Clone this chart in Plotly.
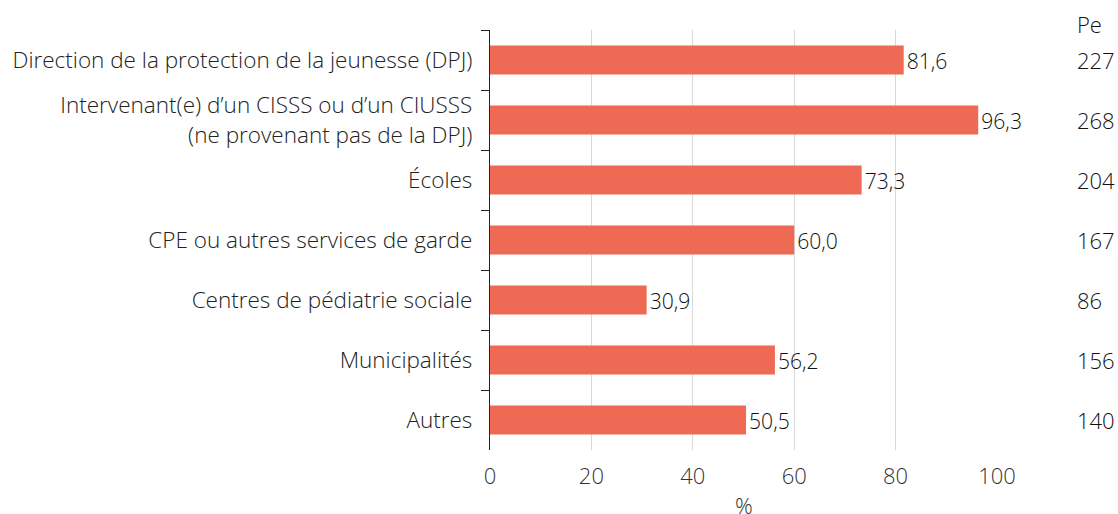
import plotly.graph_objects as go

categories = [
    "Direction de la protection de la jeunesse (DPJ)",
    "Intervenant(e) d’un CISSS ou d’un CIUSSS<br>(ne provenant pas de la DPJ)",
    "Écoles",
    "CPE ou autres services de garde",
    "Centres de pédiatrie sociale",
    "Municipalités",
    "Autres",
]
percent = [81.6, 96.3, 73.3, 60.0, 30.9, 56.2, 50.5]
counts = [227, 268, 204, 167, 86, 156, 140]
header = "Pe"
x_title = "%"
x_ticks = [0, 20, 40, 60, 80, 100]

labels = [f"{v:.1f}".replace(".", ",") for v in percent]

W, H = 1118, 514
L, R, T, B = 490, 121, 30, 64
col_x = (1075 - L) / (W - L - R)

fig = go.Figure()
fig.add_trace(go.Bar(
    y=categories, x=percent, orientation="h",
    marker=dict(color="#EE6A55", line=dict(width=0)),
    width=0.48,
    text=labels, textposition="outside", cliponaxis=False,
    textfont=dict(family="Open Sans", size=22, color="#111111"),
    hoverinfo="skip",
))

for c, n in zip(categories, counts):
    fig.add_annotation(x=col_x, y=c, xref="paper", yref="y", text=str(n),
                       showarrow=False, xanchor="left", yanchor="middle",
                       font=dict(family="Open Sans", size=22, color="#111111"))
fig.add_annotation(x=col_x, y=1, xref="paper", yref="paper", text=header,
                   showarrow=False, xanchor="left", yanchor="bottom", yshift=-11,
                   font=dict(family="Open Sans", size=22, color="#111111"))

lightfont = dict(family="Open Sans", size=22, color="#333333", weight=300)

fig.add_annotation(x=0.5, y=0, xref="paper", yref="paper", text=x_title,
                   showarrow=False, xanchor="center", yanchor="middle", yshift=-55,
                   font=lightfont)

fig.update_layout(
    width=W, height=H,
    margin=dict(l=L, r=R, t=T, b=B, autoexpand=False),
    paper_bgcolor="white", plot_bgcolor="white",
    showlegend=False,
    font=lightfont,
    xaxis=dict(range=[0, 100], tickvals=x_ticks, ticktext=[str(t) for t in x_ticks],
               showgrid=True, gridcolor="#D9D9D9", gridwidth=1, zeroline=False,
               showline=False, ticks="", automargin=False, ticklabelstandoff=11,
               tickfont=lightfont),
    yaxis=dict(categoryorder="array", categoryarray=categories, autorange="reversed",
               showline=True, linecolor="#222222", linewidth=1.3, automargin=False,
               ticks="outside", tickson="boundaries", ticklen=8, tickcolor="#222222",
               tickwidth=1.3, showgrid=False, ticklabelstandoff=12,
               tickfont=dict(family="Open Sans", size=22.5, color="#222222", weight=300)),
)

fig.write_html("out.html", config={"displayModeBar": False},
               post_script="document.body.style.margin='0';document.body.style.overflow='hidden';")
